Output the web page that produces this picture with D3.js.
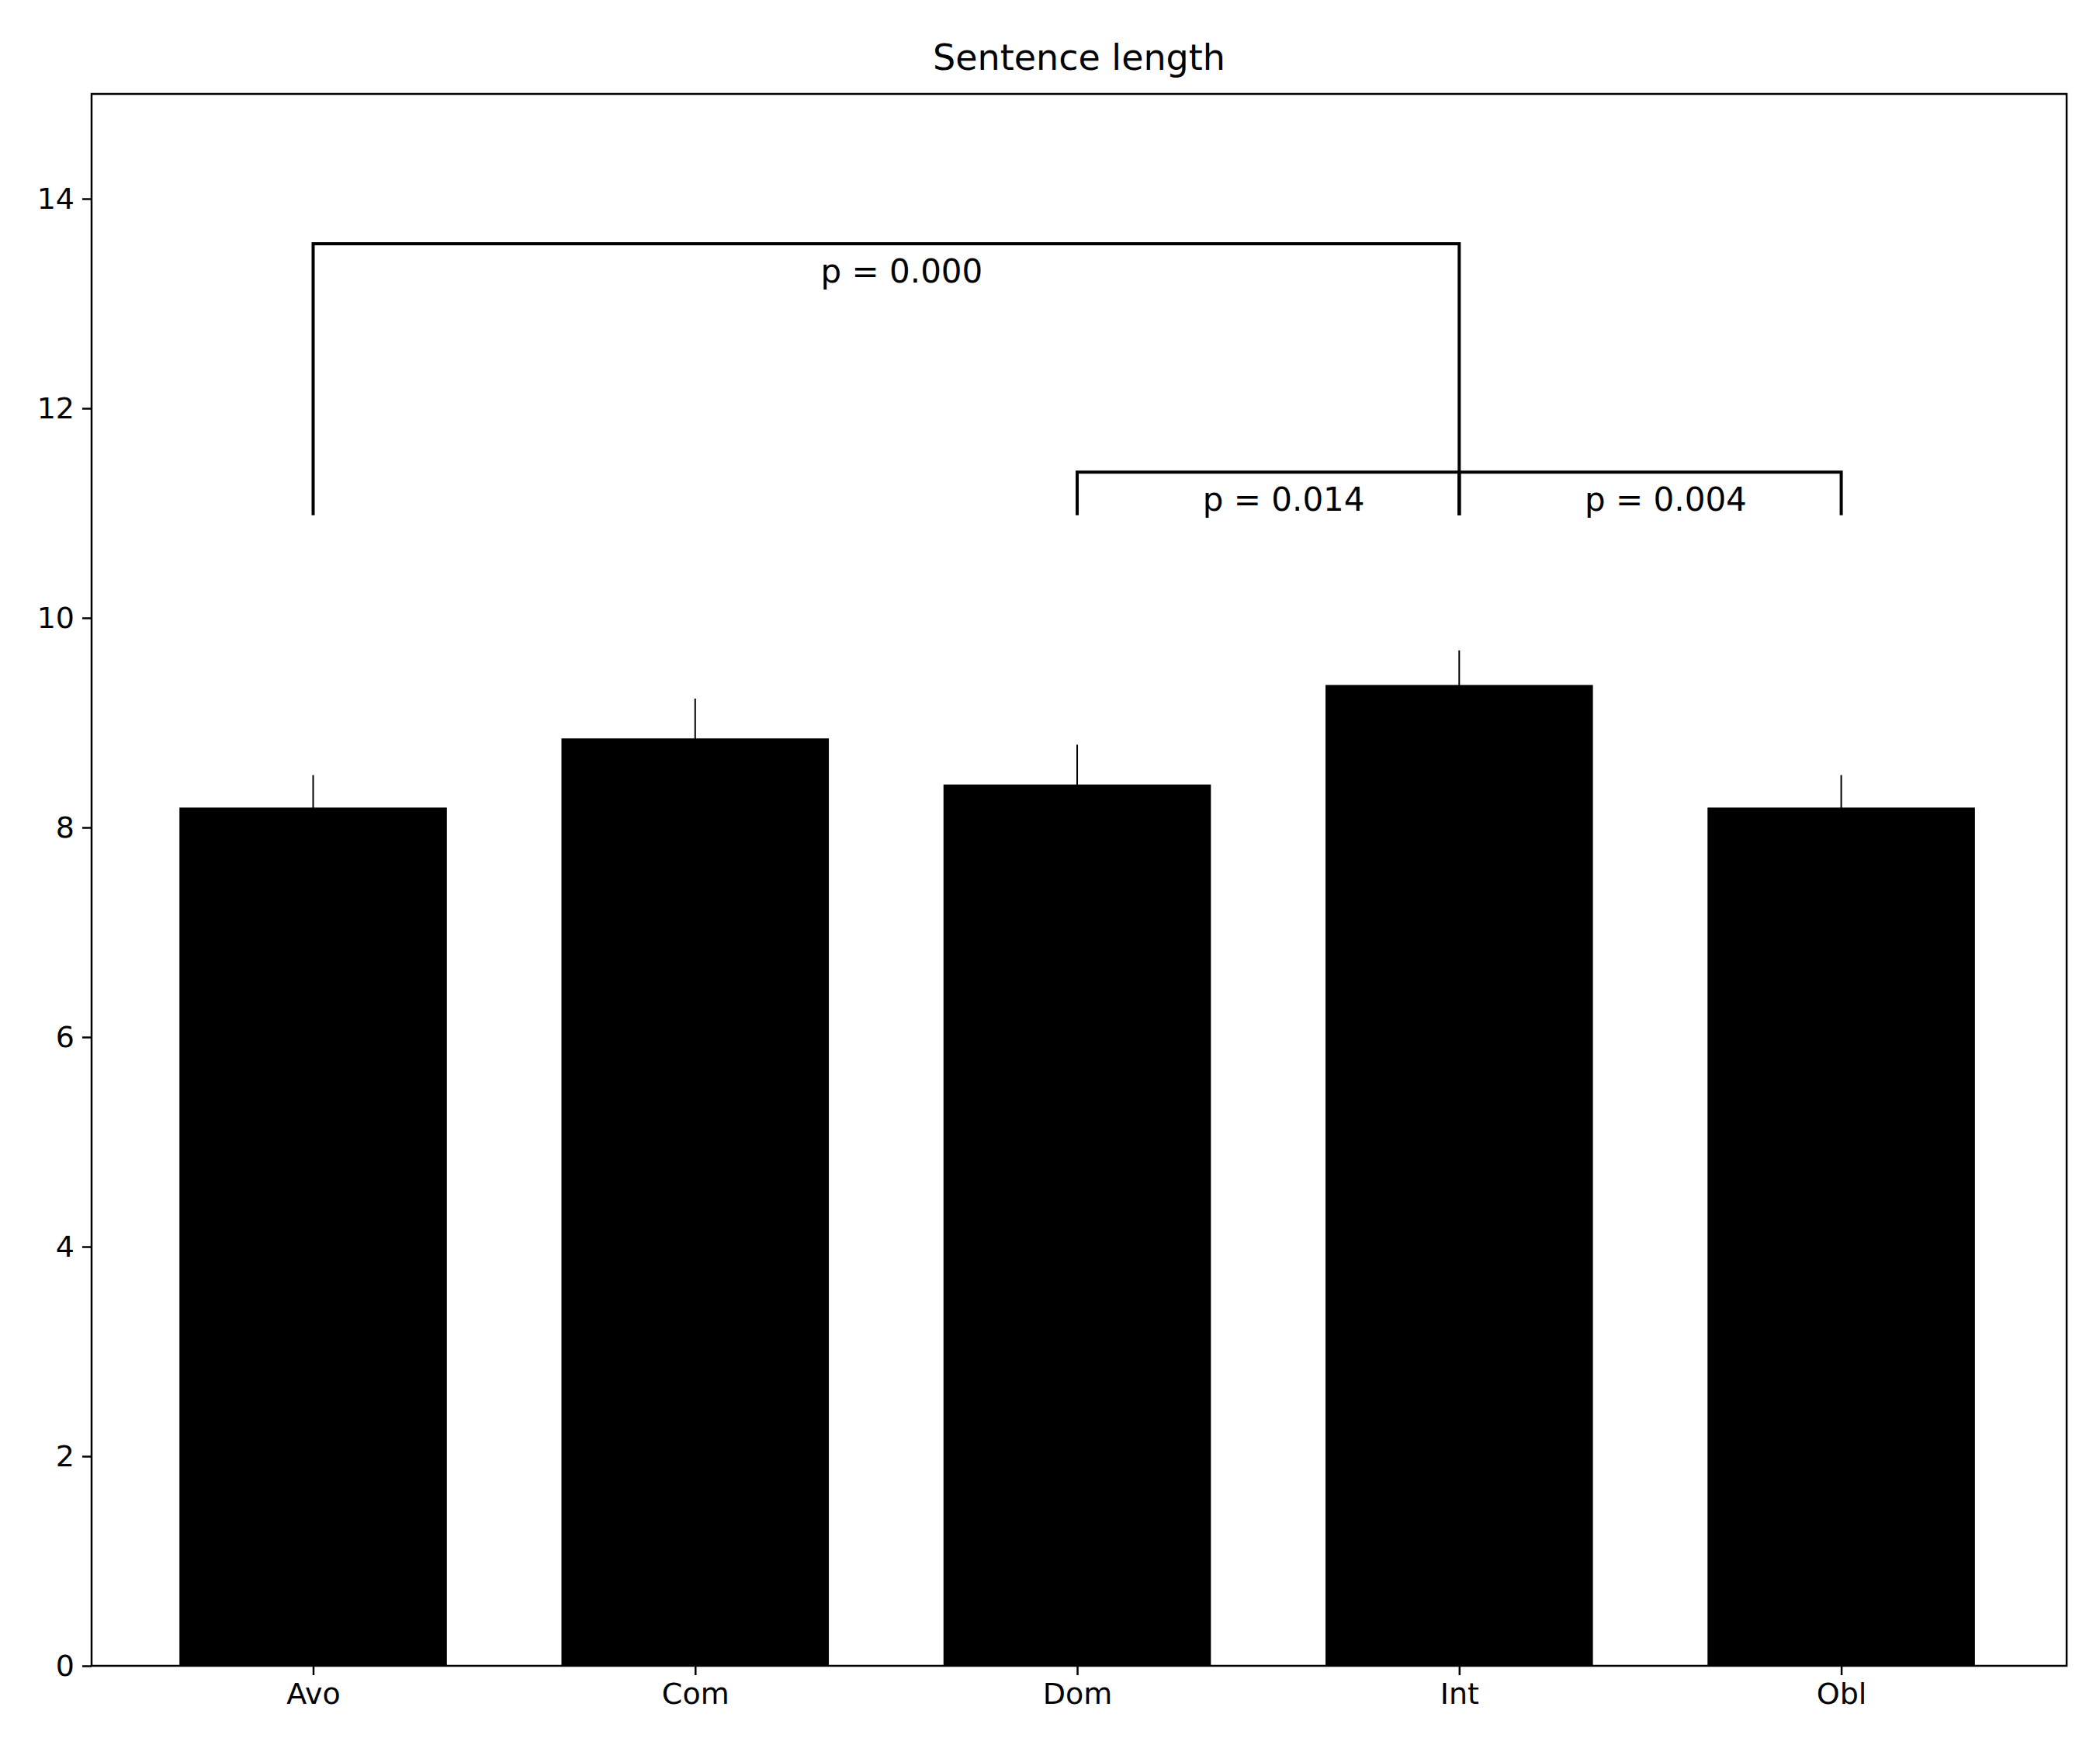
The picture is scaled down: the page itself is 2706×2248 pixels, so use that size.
<!DOCTYPE html><html><head><meta charset="utf-8"><script src="https://cdn.jsdelivr.net/npm/d3@7"></script>
<style>body{margin:0;background:#fff}text{font-family:"DejaVu Sans",sans-serif}</style></head><body>
<script>
const categories=["Avo","Com","Dom","Int","Obl"];
const means=[8.19,8.85,8.41,9.36,8.19];
const errTops=[8.5,9.23,8.79,9.69,8.5];
const yTicks=[0,2,4,6,8,10,12,14];
const brackets=[{a:0,b:3,y:13.57,leg:10.98,label:"p = 0.000"},{a:2,b:3,y:11.39,leg:10.98,label:"p = 0.014"},{a:3,b:4,y:11.39,leg:10.98,label:"p = 0.004"}];
const W=2706,H=2248,L=118,R=2663,T=121,B=2146;
const svg=d3.select("body").append("svg").attr("width",W).attr("height",H);
const x=d3.scaleLinear().domain([-0.58,4.59]).range([L,R]);
const y=d3.scaleLinear().domain([0,15]).range([B,T]);
const bw=x(0.7)-x(0);
svg.selectAll(".bar").data(means).join("rect").attr("x",(d,i)=>x(i)-bw/2).attr("width",bw).attr("y",d=>y(d)).attr("height",d=>B-y(d)).attr("fill","#000");
svg.selectAll(".err").data(errTops).join("line").attr("x1",(d,i)=>x(i)).attr("x2",(d,i)=>x(i)).attr("y1",d=>y(d)).attr("y2",(d,i)=>y(means[i])+2).attr("stroke","#000").attr("stroke-width",2);
const g=svg.append("g");
brackets.forEach(b=>{
 g.append("path").attr("d",`M${x(b.a)},${y(b.leg)}V${y(b.y)}H${x(b.b)}V${y(b.leg)}`).attr("fill","none").attr("stroke","#000").attr("stroke-width",4);
 g.append("text").attr("x",(x(b.a)+x(b.b))/2+20).attr("y",y(b.y)+50).attr("text-anchor","middle").attr("font-size",42).text(b.label);
});
svg.append("rect").attr("x",L).attr("y",T).attr("width",R-L).attr("height",B-T).attr("fill","none").attr("stroke","#000").attr("stroke-width",2.5);
svg.append("g").attr("transform",`translate(${L},0)`).call(d3.axisLeft(y).tickValues(yTicks).tickSize(12).tickPadding(10)).call(s=>{s.select(".domain").remove();s.selectAll("text").attr("font-size",38).attr("font-family","DejaVu Sans");s.selectAll("line").attr("stroke-width",2.5)});
svg.append("g").attr("transform",`translate(0,${B})`).call(d3.axisBottom(x).tickValues([0,1,2,3,4]).tickFormat(i=>categories[i]).tickSize(12).tickPadding(10)).call(s=>{s.select(".domain").remove();s.selectAll("text").attr("font-size",38).attr("font-family","DejaVu Sans");s.selectAll("line").attr("stroke-width",2.5)});
svg.append("text").attr("x",(L+R)/2).attr("y",90).attr("text-anchor","middle").attr("font-size",46).text("Sentence length");
</script></body></html>
